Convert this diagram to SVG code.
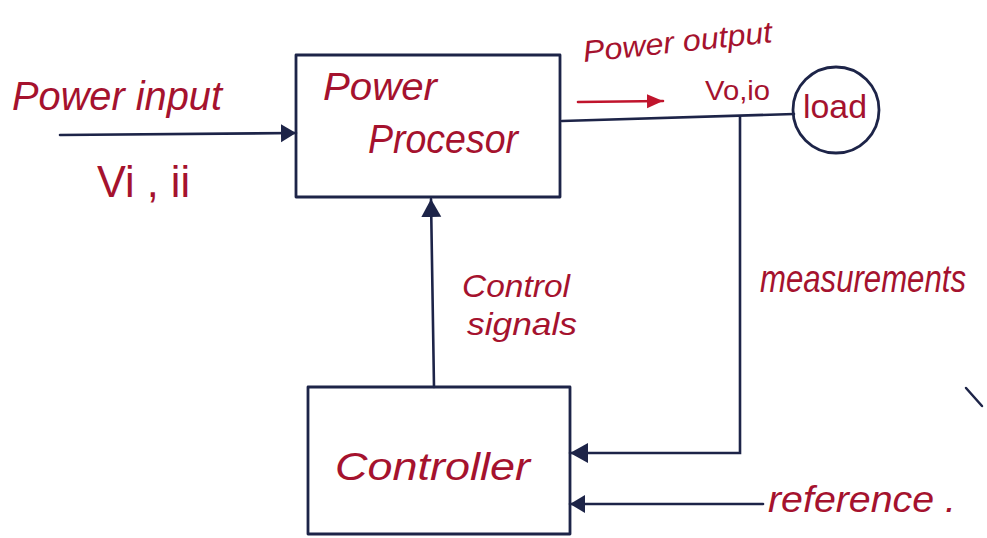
<svg xmlns="http://www.w3.org/2000/svg" width="987" height="538" viewBox="0 0 987 538">
<style>
  .bg { fill: #ffffff; }
  .box { fill: none; stroke: #1d2448; stroke-width: 2.8; stroke-linejoin: round; }
  .wire { fill: none; stroke: #1d2448; stroke-width: 2.6; stroke-linecap: round; }
  .red { fill: none; stroke: #c0142c; stroke-width: 2.6; stroke-linecap: round; }
  .lbl { font-family: "Liberation Sans", "DejaVu Sans", sans-serif; font-style: italic; fill: #a5122e; }
  .up { font-family: "Liberation Sans", "DejaVu Sans", sans-serif; fill: #a5122e; }
</style>
<defs>
  <marker id="ah" markerUnits="userSpaceOnUse" markerWidth="20" markerHeight="24" refX="18" refY="10" orient="auto">
    <path d="M0,0 L18,10 L0,20 Z" fill="#1d2448"/>
  </marker>
  <marker id="ahs" markerUnits="userSpaceOnUse" markerWidth="18" markerHeight="20" refX="15" refY="9" orient="auto">
    <path d="M0,0 L15,9 L0,18 Z" fill="#1d2448"/>
  </marker>
  <marker id="ahr" markerUnits="userSpaceOnUse" markerWidth="18" markerHeight="16" refX="16" refY="7" orient="auto">
    <path d="M0,0 L16,7 L0,14 Z" fill="#c0142c"/>
  </marker>
</defs>
<rect class="bg" x="0" y="0" width="987" height="538"/>

<g id="connectors">
  <line class="wire" x1="60" y1="135" x2="296" y2="133" marker-end="url(#ahs)"/>
  <line class="wire" x1="562" y1="121" x2="794" y2="114"/>
  <line class="wire" x1="434" y1="387" x2="431" y2="199" marker-end="url(#ah)"/>
  <polyline class="wire" points="740,117 740,453 570,453" marker-end="url(#ah)"/>
  <line class="wire" x1="763" y1="504" x2="570" y2="504" marker-end="url(#ahs)"/>
  <line class="red" x1="578" y1="102" x2="663" y2="101" marker-end="url(#ahr)"/>
</g>

<g id="power-input-label">
  <text class="lbl" x="12" y="110" font-size="40" textLength="210" lengthAdjust="spacingAndGlyphs">Power input</text>
  <text class="up" x="97" y="197" font-size="44" textLength="93" lengthAdjust="spacingAndGlyphs">Vi , ii</text>
</g>

<g id="power-processor">
  <rect class="box" x="296" y="55" width="264" height="142"/>
  <text class="lbl" x="323" y="100" font-size="38" textLength="114" lengthAdjust="spacingAndGlyphs">Power</text>
  <text class="lbl" x="368" y="153" font-size="40" textLength="150" lengthAdjust="spacingAndGlyphs">Procesor</text>
</g>

<g id="power-output-label">
  <text class="lbl" x="584" y="62" font-size="30" textLength="190" lengthAdjust="spacingAndGlyphs" transform="rotate(-6 584 62)">Power output</text>
  <text class="up" x="705" y="100" font-size="28" textLength="65" lengthAdjust="spacingAndGlyphs">Vo,io</text>
</g>

<g id="load">
  <circle class="box" cx="836" cy="110" r="43"/>
  <text class="up" x="803" y="118" font-size="34" textLength="64" lengthAdjust="spacingAndGlyphs">load</text>
</g>

<g id="control-signals-label">
  <text class="lbl" x="462" y="297" font-size="32" textLength="108" lengthAdjust="spacingAndGlyphs">Control</text>
  <text class="lbl" x="467" y="335" font-size="32" textLength="110" lengthAdjust="spacingAndGlyphs">signals</text>
</g>

<g id="measurements-label">
  <text class="lbl" x="0" y="0" font-size="33" textLength="206" lengthAdjust="spacingAndGlyphs" transform="translate(760 292) scale(1 1.15)">measurements</text>
</g>

<g id="controller">
  <rect class="box" x="308" y="387" width="262" height="147"/>
  <text class="lbl" x="335" y="480" font-size="38" textLength="195" lengthAdjust="spacingAndGlyphs">Controller</text>
</g>

<g id="reference-label">
  <text class="lbl" x="768" y="512" font-size="36" textLength="188" lengthAdjust="spacingAndGlyphs">reference .</text>
</g>

<line x1="966" y1="388" x2="982" y2="406" stroke="#1d2448" stroke-width="2.5" stroke-linecap="round"/>
</svg>
